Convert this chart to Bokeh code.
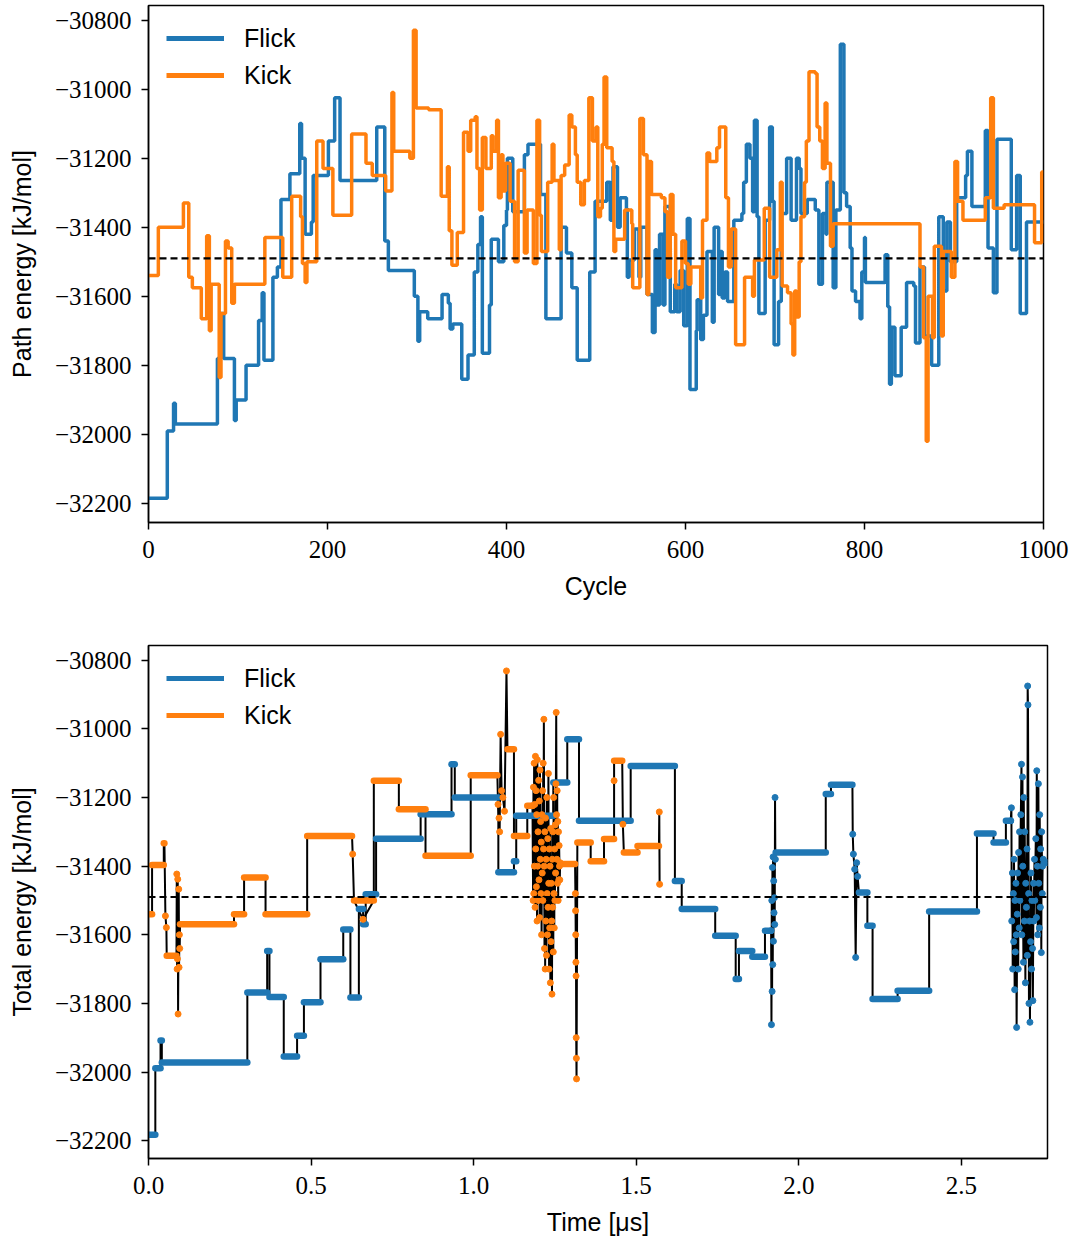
from bokeh.plotting import figure
from bokeh.layouts import column
from bokeh.models import (ColumnDataSource, Range1d, FixedTicker, CustomJSTickFormatter,
                          Legend, LegendItem, Span)
from bokeh.embed import file_html
from bokeh.resources import INLINE

# ---------------- data: top panel (path energy per cycle, step changes) ----------------
flick_cycle = [0, 21, 28, 30, 77, 81, 84, 96, 98, 109, 123, 127, 129, 139, 144, 148, 158, 169, 171, 175,
               182, 184, 201, 208, 214, 255, 264, 268, 297, 301, 303, 312, 328, 335, 337, 340, 350, 357,
               364, 368, 371, 373, 381, 383, 391, 397, 400, 401, 407, 420, 424, 438, 444, 461, 467, 473,
               479, 493, 499, 512, 516, 519, 524, 527, 534, 535, 537, 543, 548, 550, 557, 563, 566, 568,
               571, 575, 577, 583, 588, 590, 594, 598, 602, 605, 612, 613, 617, 620, 624, 630, 632, 637,
               639, 641, 644, 647, 654, 663, 665, 668, 672, 675, 677, 680, 682, 689, 694, 697, 699, 704,
               707, 713, 718, 724, 727, 729, 736, 745, 749, 753, 757, 758, 765, 768, 773, 777, 780, 784,
               786, 790, 795, 797, 800, 801, 823, 826, 828, 830, 834, 841, 847, 855, 857, 862, 867, 875,
               883, 888, 892, 896, 903, 913, 915, 920, 935, 938, 944, 948, 964, 970, 974, 981, 1000]
flick_energy = [-32185, -31990, -31910, -31970, -31780, -31650, -31780, -31960, -31900, -31800, -31670,
                -31590, -31785, -31545, -31515, -31320, -31245, -31100, -31200, -31420, -31385, -31250,
                -31150, -31025, -31265, -31110, -31440, -31525, -31600, -31730, -31645, -31665, -31595,
                -31620, -31695, -31680, -31840, -31770, -31530, -31450, -31370, -31765, -31625, -31435,
                -31500, -31395, -31350, -31200, -31355, -31190, -31160, -31305, -31665, -31400, -31475,
                -31575, -31785, -31530, -31325, -31270, -31380, -31225, -31400, -31315, -31345, -31545,
                -31495, -31405, -31545, -31400, -31595, -31705, -31465, -31625, -31420, -31625, -31340,
                -31645, -31565, -31645, -31525, -31685, -31375, -31870, -31700, -31610, -31725, -31655,
                -31470, -31675, -31400, -31595, -31470, -31605, -31530, -31615, -31380, -31360, -31270,
                -31160, -31200, -31355, -31090, -31370, -31650, -31380, -31110, -31325, -31740, -31615,
                -31360, -31200, -31380, -31200, -31230, -31360, -31320, -31350, -31565, -31360, -31420,
                -31270, -31575, -31350, -30870, -31300, -31340, -31460, -31585, -31615, -31665, -31530,
                -31430, -31560, -31480, -31630, -31855, -31690, -31830, -31690, -31560, -31570, -31735,
                -31515, -31715, -31800, -31370, -31585, -31385, -31500, -31315, -31250, -31180, -31340,
                -31120, -31460, -31590, -31145, -31465, -31250, -31650, -31385, -31385]

kick_cycle = [0, 11, 39, 45, 49, 59, 65, 68, 70, 79, 81, 86, 89, 93, 96, 130, 150, 160, 170, 172, 175,
              177, 188, 195, 206, 227, 243, 250, 265, 272, 274, 292, 296, 299, 313, 327, 334, 336, 339,
              345, 352, 357, 360, 365, 367, 370, 373, 377, 383, 385, 389, 391, 394, 396, 399, 404, 409,
              413, 420, 423, 430, 434, 437, 439, 446, 451, 453, 459, 461, 465, 470, 473, 477, 479, 483,
              487, 492, 496, 500, 502, 505, 507, 509, 512, 518, 520, 522, 532, 540, 541, 549, 553, 557,
              559, 562, 573, 577, 580, 583, 586, 589, 596, 600, 603, 606, 617, 619, 624, 627, 635, 638,
              645, 648, 651, 656, 666, 675, 677, 688, 694, 702, 706, 708, 714, 718, 720, 722, 724, 727,
              729, 733, 735, 738, 745, 747, 750, 753, 756, 758, 762, 765, 862, 866, 869, 871, 876, 878,
              886, 888, 897, 901, 904, 910, 935, 941, 944, 956, 990, 998, 1000]
kick_energy = [-31540, -31400, -31330, -31545, -31575, -31665, -31425, -31700, -31565, -31835, -31650,
               -31440, -31460, -31620, -31565, -31430, -31545, -31310, -31370, -31505, -31560, -31500,
               -31150, -31230, -31365, -31130, -31215, -31250, -31295, -31010, -31180, -31200, -30830,
               -31055, -31060, -31310, -31225, -31410, -31510, -31415, -31125, -31180, -31090, -31080,
               -31230, -31350, -31140, -31230, -31135, -31180, -31090, -31315, -31190, -31295, -31215,
               -31325, -31500, -31235, -31475, -31350, -31505, -31090, -31365, -31470, -31270, -31160,
               -31265, -31465, -31250, -31220, -31075, -31110, -31190, -31270, -31335, -31265, -31025,
               -31150, -31110, -31370, -31345, -31160, -30965, -31170, -31210, -31470, -31435, -31350,
               -31390, -31575, -31085, -31190, -31595, -31210, -31305, -31315, -31355, -31545, -31305,
               -31420, -31575, -31440, -31505, -31565, -31515, -31605, -31380, -31185, -31210, -31170,
               -31110, -31315, -31515, -31405, -31740, -31545, -31600, -31495, -31345, -31545, -31465,
               -31270, -31570, -31590, -31680, -31770, -31585, -31660, -31500, -31370, -31270, -31150,
               -30950, -30955, -31110, -31150, -31230, -31040, -31215, -31455, -31390, -31515, -31720,
               -32020, -31600, -31720, -31455, -31715, -31470, -31545, -31210, -31325, -31380, -31315,
               -31025, -31345, -31335, -31445, -31240, -31240]

reference_energy = -31490

# ---------------- data: bottom panel (total energy vs simulation time) ----------------
flick_plateau_start = [0.000, 0.021, 0.037, 0.041, 0.304, 0.365, 0.372, 0.416, 0.457, 0.478, 0.529, 0.599,
                       0.621, 0.647, 0.660, 0.668, 0.700, 0.837, 0.932, 0.942, 1.076, 1.124, 1.131, 1.245,
                       1.288, 1.324, 1.483, 1.619, 1.640, 1.743, 1.806, 1.816, 1.857, 1.896, 1.929, 2.083,
                       2.099, 2.185, 2.211, 2.227, 2.304, 2.401, 2.548, 2.599, 2.637]
flick_plateau_end = [0.021, 0.037, 0.041, 0.304, 0.365, 0.372, 0.416, 0.457, 0.478, 0.529, 0.599, 0.621,
                     0.647, 0.660, 0.668, 0.700, 0.837, 0.932, 0.942, 1.076, 1.124, 1.131, 1.245, 1.288,
                     1.324, 1.483, 1.619, 1.640, 1.743, 1.806, 1.816, 1.857, 1.896, 1.914, 2.083, 2.099,
                     2.165, 2.211, 2.227, 2.304, 2.401, 2.548, 2.599, 2.637, 2.652]
flick_plateau_energy = [-32183, -31989, -31908, -31972, -31768, -31647, -31781, -31955, -31894, -31797,
                        -31671, -31585, -31783, -31525, -31569, -31482, -31320, -31249, -31103, -31200,
                        -31418, -31386, -31253, -31156, -31030, -31268, -31108, -31443, -31525, -31603,
                        -31729, -31647, -31664, -31588, -31360, -31190, -31163, -31477, -31574, -31787,
                        -31763, -31532, -31305, -31331, -31268]
flick_dot_time = [1.915, 1.916, 1.917, 1.918, 1.919, 1.920, 1.921, 1.922, 1.923, 1.924, 1.925, 1.926,
                  1.927, 1.928,
                  2.166, 2.168, 2.172, 2.175, 2.178, 2.181,
                  2.652, 2.654, 2.655, 2.657, 2.658, 2.660, 2.661, 2.662, 2.664, 2.665, 2.666, 2.668,
                  2.669, 2.670, 2.672, 2.673, 2.675, 2.676, 2.678, 2.679, 2.680,
                  2.683, 2.685, 2.686, 2.688, 2.689, 2.691, 2.692, 2.694, 2.695, 2.697, 2.698, 2.700,
                  2.702, 2.703, 2.704, 2.705, 2.707, 2.708, 2.710, 2.711, 2.713, 2.714, 2.716, 2.717,
                  2.719, 2.720, 2.722, 2.723, 2.725, 2.726,
                  2.729, 2.731, 2.732, 2.734, 2.735, 2.737, 2.738, 2.740, 2.741, 2.743, 2.744, 2.746,
                  2.747, 2.749, 2.750, 2.752, 2.754, 2.765]
flick_dot_energy = [-31588, -31862, -31500, -31765, -31404, -31687, -31373, -31619, -31443, -31536,
                    -31492, -31570, -31200, -31380,
                    -31307, -31365, -31409, -31666, -31390, -31430,
                    -31268, -31230, -31560, -31420, -31700, -31480, -31620, -31380, -31760, -31500,
                    -31650, -31450, -31600, -31870, -31540, -31420, -31700, -31360, -31580, -31300,
                    -31500,
                    -31250, -31103, -31600, -31140, -31400, -31680, -31200, -31560, -31300, -31740,
                    -31450, -31520, -31350, -31660, -30875, -30930, -31480, -31800, -31560, -31855,
                    -31620, -31420, -31700, -31500, -31640, -31792, -31450, -31560, -31380, -31500,
                    -31320, -31550, -31122, -31400, -31600, -31160, -31450, -31580, -31250, -31520,
                    -31350, -31652, -31300, -31480, -31400, -31380, -31390, -31390]

kick_plateau_start = [0.000, 0.011, 0.047, 0.056, 0.097, 0.263, 0.294, 0.360, 0.488, 0.632, 0.693, 0.770,
                      0.852, 0.991, 1.104, 1.124, 1.165, 1.268, 1.319, 1.360, 1.401, 1.432, 1.462, 1.504]
kick_plateau_end = [0.011, 0.047, 0.049, 0.086, 0.263, 0.294, 0.360, 0.488, 0.626, 0.693, 0.770, 0.852,
                    0.991, 1.073, 1.124, 1.165, 1.181, 1.312, 1.360, 1.401, 1.432, 1.457, 1.504, 1.570]
kick_plateau_energy = [-31540, -31397, -31333, -31661, -31569, -31540, -31433, -31540, -31312, -31500,
                       -31151, -31234, -31370, -31135, -31059, -31312, -31224, -31394, -31331, -31386,
                       -31321, -31093, -31360, -31341]
kick_dot_time = [0.052, 0.055, 0.087, 0.088, 0.089, 0.090, 0.091, 0.093, 0.094, 0.095, 0.096,
                 0.628, 0.660,
                 1.075, 1.078, 1.080, 1.083, 1.086, 1.090, 1.095, 1.101,
                 1.181, 1.183, 1.184, 1.185, 1.186, 1.187, 1.188, 1.189, 1.190, 1.191, 1.192, 1.193,
                 1.194, 1.195, 1.196, 1.197, 1.198, 1.199, 1.200, 1.201, 1.202, 1.203, 1.204, 1.205,
                 1.206, 1.207, 1.208, 1.209, 1.210, 1.211, 1.212, 1.213, 1.214, 1.215, 1.216, 1.217,
                 1.218, 1.219, 1.220, 1.221, 1.222, 1.223, 1.224, 1.225, 1.226, 1.227, 1.228, 1.229,
                 1.230, 1.231, 1.232, 1.233, 1.234, 1.235, 1.236, 1.237, 1.238, 1.239, 1.240, 1.241,
                 1.242, 1.243, 1.244, 1.245, 1.246, 1.247, 1.248, 1.249, 1.250, 1.251, 1.252, 1.253,
                 1.254, 1.255, 1.256, 1.257, 1.258, 1.259, 1.260, 1.261, 1.262, 1.263, 1.264, 1.265,
                 1.266,
                 1.313, 1.3135, 1.314, 1.3145, 1.315, 1.3155, 1.316, 1.3165,
                 1.432, 1.459, 1.571, 1.572]
kick_dot_energy = [-31545, -31579, -31423, -31700, -31670, -31438, -31831, -31467, -31695, -31600, -31640,
                   -31365, -31555,
                   -31220, -31260, -31300, -31016, -31180, -31200, -31240, -30831,
                   -31224, -31500, -31170, -31480, -31100, -31400, -31220, -31520, -31080, -31350,
                   -31180, -31460, -31250, -31560, -31090, -31400, -31300, -31500, -31150, -31440,
                   -31210, -31550, -31120, -31380, -31270, -31480, -31330, -31600, -31250, -31420,
                   -31180, -31500, -31100, -31350, -30972, -31400, -31640, -31300, -31700, -31260,
                   -31560, -31380, -31660, -31200, -31480, -31600, -31320, -31520, -31130, -31450,
                   -31700, -31350, -31580, -31400, -31740, -31290, -31620, -31450, -31560, -31773,
                   -31380, -31520, -31300, -31650, -31200, -31480, -31580, -31350, -31500, -31280,
                   -31420, -31160, -30952, -31250, -31380, -31180, -31450, -31270, -31500, -31300,
                   -31440, -31340, -31400, -31440, -31390,
                   -31480, -31530, -31600, -31680, -31720, -31900, -31960, -32020,
                   -31151, -31278, -31242, -31453]

cycle_ticks = [0, 200, 400, 600, 800, 1000]
time_ticks = [0.0, 0.5, 1.0, 1.5, 2.0, 2.5]
energy_ticks = [-32200, -32000, -31800, -31600, -31400, -31200, -31000, -30800]

BLUE = "#1f77b4"
ORANGE = "#ff7f0e"
SERIF = "Liberation Serif"
SANS = "Liberation Sans"

minus_fmt = CustomJSTickFormatter(code="return (tick < 0 ? '\u2212' : '') + Math.abs(tick).toFixed(0);")


def style(p, xlabel, ylabel, xticks, xfmt):
    p.xgrid.visible = False
    p.ygrid.visible = False
    p.outline_line_color = "black"
    p.outline_line_width = 1.5
    p.outline_line_alpha = 1.0
    p.background_fill_color = "white"
    p.border_fill_color = "white"
    p.xaxis.ticker = FixedTicker(ticks=xticks)
    p.yaxis.ticker = FixedTicker(ticks=energy_ticks)
    p.xaxis.formatter = CustomJSTickFormatter(code=xfmt)
    p.yaxis.formatter = minus_fmt
    for ax in (p.xaxis, p.yaxis):
        ax.axis_line_color = "black"
        ax.axis_line_width = 1.5
        ax.major_tick_line_color = "black"
        ax.major_tick_line_width = 1.5
        ax.major_tick_out = 7
        ax.major_tick_in = 0
        ax.minor_tick_line_color = None
        ax.major_label_text_font = SERIF
        ax.major_label_text_font_size = "25px"
        ax.major_label_text_color = "black"
        ax.axis_label_text_font = SANS
        ax.axis_label_text_font_size = "25px"
        ax.axis_label_text_font_style = "normal"
        ax.axis_label_text_color = "black"
    p.xaxis.major_label_standoff = 11
    p.yaxis.major_label_standoff = 10
    p.xaxis.axis_label_standoff = 11
    p.yaxis.axis_label_standoff = 16
    p.xaxis.axis_label = xlabel
    p.yaxis.axis_label = ylabel


def add_legend(p, r_flick, r_kick):
    leg = Legend(items=[LegendItem(label="Flick", renderers=[r_flick]),
                        LegendItem(label="Kick", renderers=[r_kick])],
                 location="top_left")
    leg.border_line_alpha = 0
    leg.background_fill_alpha = 0
    leg.margin = 8
    leg.padding = 10
    leg.spacing = 7
    leg.glyph_width = 58
    leg.glyph_height = 30
    leg.label_standoff = 20
    leg.label_text_font = SANS
    leg.label_text_font_size = "25px"
    leg.label_text_color = "black"
    p.add_layout(leg)


# ---------------- top figure ----------------
p1 = figure(frame_width=895, frame_height=517, min_border_left=148, min_border_right=32,
            min_border_top=5, min_border_bottom=100, output_backend="svg", toolbar_location=None,
            x_range=Range1d(0, 1000), y_range=Range1d(-32255, -30758))
style(p1, "Cycle", "Path energy [kJ/mol]", cycle_ticks, "return tick.toFixed(0);")

src_f = ColumnDataSource(dict(x=flick_cycle, y=flick_energy))
src_k = ColumnDataSource(dict(x=kick_cycle, y=kick_energy))
rf = p1.step("x", "y", source=src_f, mode="after", line_color=BLUE, line_width=3.5)
rk = p1.step("x", "y", source=src_k, mode="after", line_color=ORANGE, line_width=3.5)
p1.add_layout(Span(location=reference_energy, dimension="width", line_color="black",
                   line_width=2.2, line_dash="7 4"))
lf = p1.line([0, 0], [0, 0], line_color=BLUE, line_width=5)
lk = p1.line([0, 0], [0, 0], line_color=ORANGE, line_width=5)
add_legend(p1, lf, lk)

# ---------------- bottom figure ----------------
p2 = figure(frame_width=899, frame_height=513, min_border_left=148, min_border_right=28,
            min_border_top=23, min_border_bottom=85, output_backend="svg", toolbar_location=None,
            x_range=Range1d(0, 2.765), y_range=Range1d(-32252, -30757))
style(p2, "Time [\u03bcs]", "Total energy [kJ/mol]", time_ticks, "return tick.toFixed(1);")


def trace(t0s, t1s, es, ts, ss):
    # order at equal times: plateau end, then single points, then next plateau start
    pts = []
    for a, b, e in zip(t0s, t1s, es):
        pts.append((a, 2, e))
        pts.append((b, 0, e))
    for t, s in zip(ts, ss):
        pts.append((t, 1, s))
    pts.sort(key=lambda q: (q[0], q[1]))
    return [q[0] for q in pts], [q[2] for q in pts]


for t0s, t1s, es, ts, ss in [
    (flick_plateau_start, flick_plateau_end, flick_plateau_energy, flick_dot_time, flick_dot_energy),
    (kick_plateau_start, kick_plateau_end, kick_plateau_energy, kick_dot_time, kick_dot_energy),
]:
    tx, ty = trace(t0s, t1s, es, ts, ss)
    p2.line(tx, ty, line_color="black", line_width=2)

p2.segment(x0=flick_plateau_start, y0=flick_plateau_energy, x1=flick_plateau_end,
           y1=flick_plateau_energy, line_color=BLUE, line_width=6.5, line_cap="round")
p2.scatter(flick_dot_time, flick_dot_energy, size=6, fill_color=BLUE, line_color=BLUE)
p2.segment(x0=kick_plateau_start, y0=kick_plateau_energy, x1=kick_plateau_end,
           y1=kick_plateau_energy, line_color=ORANGE, line_width=6.5, line_cap="round")
p2.scatter(kick_dot_time, kick_dot_energy, size=6, fill_color=ORANGE, line_color=ORANGE)
p2.add_layout(Span(location=reference_energy, dimension="width", line_color="black",
                   line_width=2.2, line_dash="7 4"))
lf2 = p2.line([0, 0], [0, 0], line_color=BLUE, line_width=5)
lk2 = p2.line([0, 0], [0, 0], line_color=ORANGE, line_width=5)
add_legend(p2, lf2, lk2)

layout = column(p1, p2, spacing=0)
open("out.html", "w").write(file_html(layout, INLINE))
